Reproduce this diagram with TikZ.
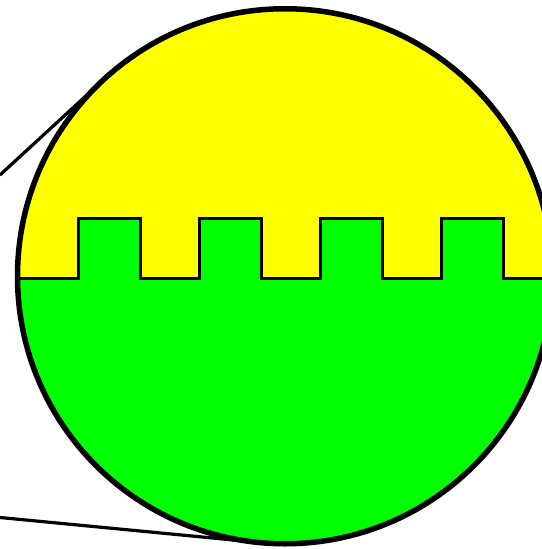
\documentclass[tikz,border=0pt]{standalone}
\usetikzlibrary{calc}
\definecolor{lensyellow}{RGB}{255,255,0}
\definecolor{lensgreen}{RGB}{0,255,0}
\begin{document}
\begin{tikzpicture}[x=1pt,y=-1pt,
  rim/.style={draw=black,line width=5.5pt},
  crenel/.style={draw=black,line width=3pt,line join=miter},
  callout/.style={draw=black,line width=3.2pt}]
\useasboundingbox (0,0) rectangle (541,549);
% yellow upper part
\fill[lensyellow] (285,276.25) circle[radius=267.5pt];
\begin{scope}
  \clip (285,276.25) circle[radius=267.5pt];
  \fill[lensgreen] (0,278.3) -| (78,218) -| (140,278.3) -| (199,218) -| (261,278.3)
     -| (320,218) -| (382,278.3) -| (441,218) -| (503,278.3) -- (545,278.3)
     -- (545,549) -- (0,549) -- cycle;
  \draw[crenel] (0,278.3) -| (78,218) -| (140,278.3) -| (199,218) -| (261,278.3)
     -| (320,218) -| (382,278.3) -| (441,218) -| (503,278.3) -- (545,278.3);
\end{scope}
% callout lines
\coordinate (upfree) at (0,175);
\coordinate (uptouch) at (103.8,79.4);
\coordinate (lowfree) at (0,517.5);
\coordinate (lowtouch) at (259.3,542.5);
\draw[callout] (upfree) -- (uptouch);
\draw[callout] (lowfree) -- (lowtouch);
% rim
\node[circle,rim,minimum size=535pt,inner sep=0pt,outer sep=0pt] (lens) at (285,276.25) {};
\end{tikzpicture}
\end{document}
